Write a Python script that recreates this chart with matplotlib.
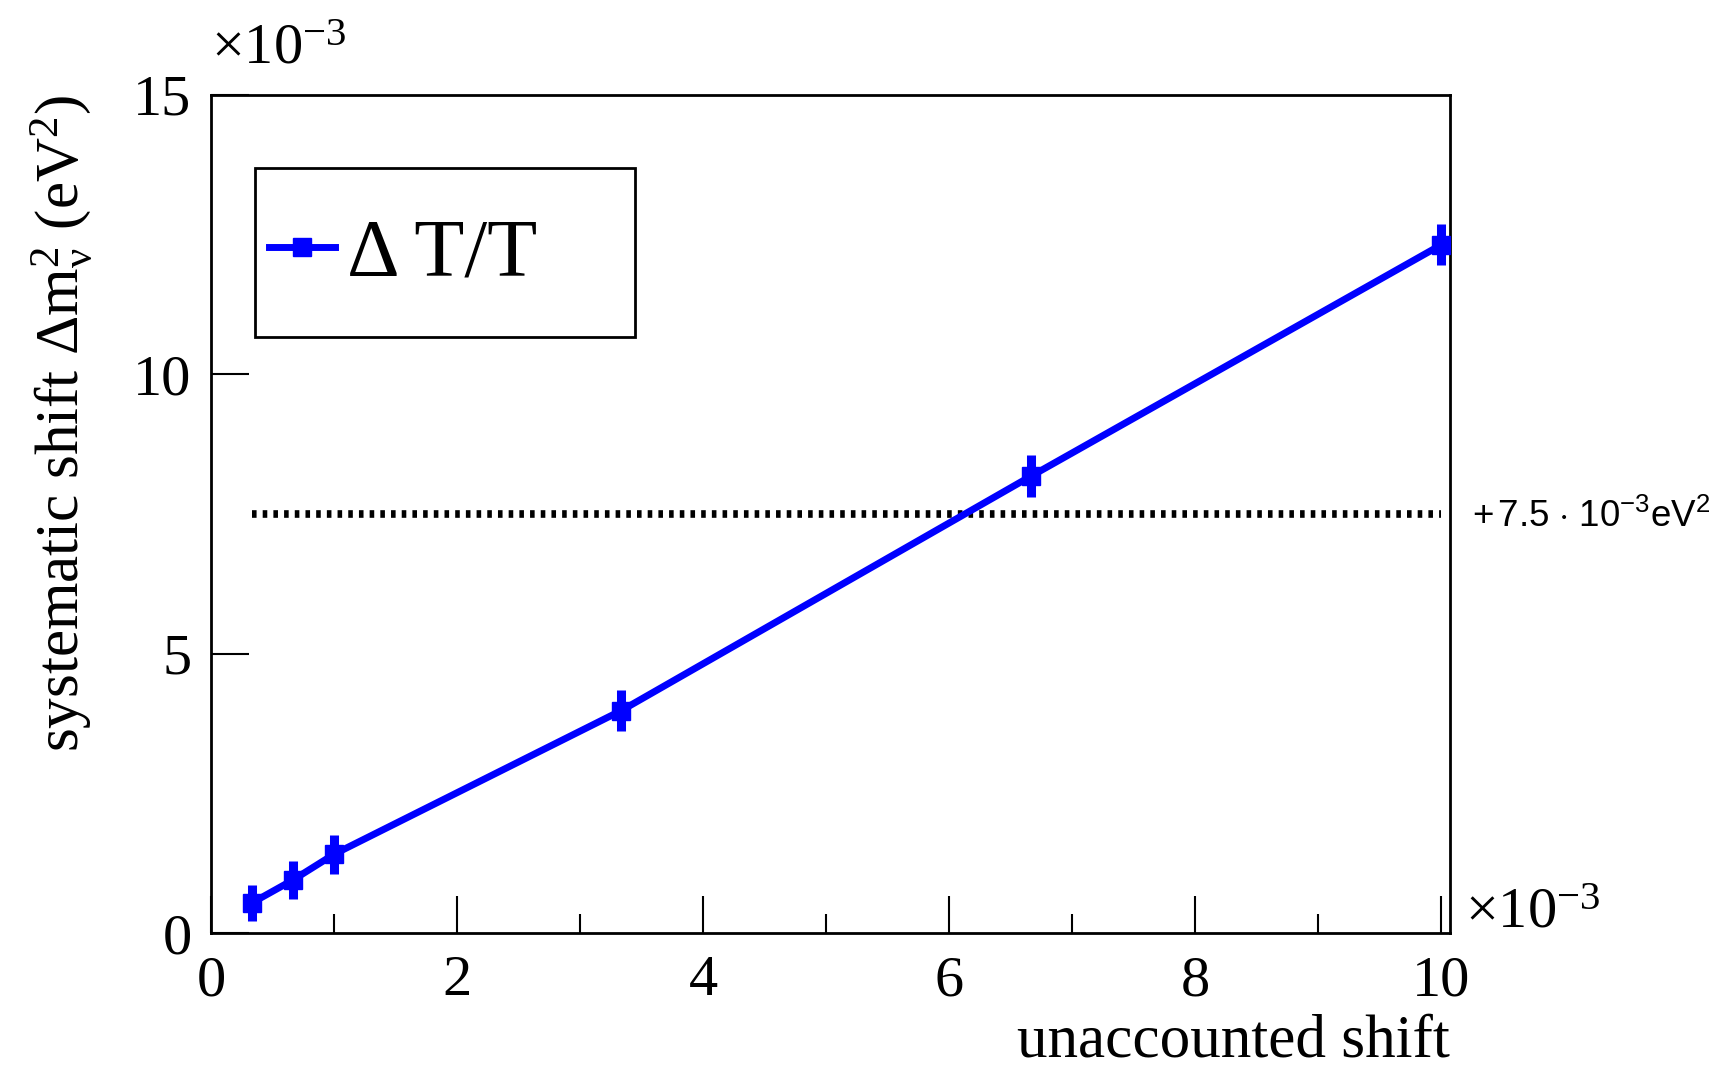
import matplotlib
matplotlib.use("Agg")
import matplotlib.pyplot as plt
from matplotlib.patches import Rectangle
from matplotlib.ticker import MultipleLocator

plt.rcParams["font.family"] = ["Liberation Serif", "DejaVu Serif"]
plt.rcParams["mathtext.fontset"] = "custom"
plt.rcParams["mathtext.rm"] = "Liberation Serif"
plt.rcParams["mathtext.it"] = "Liberation Serif:italic"
plt.rcParams["mathtext.bf"] = "Liberation Serif:bold"
plt.rcParams["mathtext.sf"] = "Liberation Sans"

# values in units of 1e-3
shift = [1 / 3, 2 / 3, 1.0, 10 / 3, 20 / 3, 10.0]
dm2 = [0.54, 0.95, 1.41, 3.98, 8.18, 12.32]
dm2_err = [0.32, 0.34, 0.35, 0.37, 0.37, 0.37]
limit = 7.5
series_label = "Δ T/T"

W, H = 1725, 1068
fig = plt.figure(figsize=(W / 100, H / 100), dpi=100)
ax = fig.add_axes([211 / W, 1 - 933 / H, (1450 - 211) / W, (933 - 95) / H])

blue = "#0000ff"
ax.errorbar(shift, dm2, yerr=dm2_err, fmt="none", ecolor=blue, elinewidth=6.5, capsize=0, zorder=3)
ax.plot(shift, dm2, "-s", color=blue, lw=5, ms=13.5, label=series_label, zorder=4)
ax.hlines(limit, shift[0], shift[-1], colors="black", lw=5.5,
          linestyles=[(0, (0.6, 0.8))], zorder=2)

ax.set_xlim(0, 10.07)
ax.set_ylim(0, 15)
ax.xaxis.set_major_locator(MultipleLocator(2))
ax.xaxis.set_minor_locator(MultipleLocator(1))
ax.yaxis.set_major_locator(MultipleLocator(5))
ax.tick_params(axis="x", which="major", direction="in", length=27, width=1.5,
               labelsize=42, pad=16, top=False)
ax.tick_params(axis="x", which="minor", direction="in", length=14, width=1.5, top=False)
ax.tick_params(axis="y", which="major", direction="in", length=27, width=1.5,
               labelsize=42, pad=14, right=False)
for s in ax.spines.values():
    s.set_linewidth(2)

ax.set_xlabel("unaccounted shift", loc="right", fontsize=44, labelpad=5)
ax.set_ylabel(r"systematic shift $\Delta\mathrm{m}_{\mathrm{\nu}}^{2}$ (eV$^{2}$)", loc="top",
              fontsize=44, labelpad=28)

mult = "$\\times$10$^{-3}$"
fig.text(211 / W, 1 - 64 / H, mult, fontsize=42, va="baseline", ha="left")
fig.text(1465 / W, 1 - 928 / H, mult, fontsize=42, va="baseline", ha="left")
fig.text(1472 / W, 1 - 517 / H, r"$\mathsf{+\,7.5\,\cdot\,10^{-3}eV^{2}}$", fontsize=26.5,
         va="center", ha="left")

fig.add_artist(Rectangle((255 / W, 1 - 337 / H), (635 - 255) / W, (337 - 168) / H,
                         transform=fig.transFigure, fill=False, ec="black", lw=2))
ax.legend(loc="center left", bbox_to_anchor=(269 / W, 1 - 256 / H),
          bbox_transform=fig.transFigure, frameon=False, fontsize=59,
          borderpad=0, borderaxespad=0, handlelength=0.8, handletextpad=0.15)

fig.savefig("out.png", dpi=100)
